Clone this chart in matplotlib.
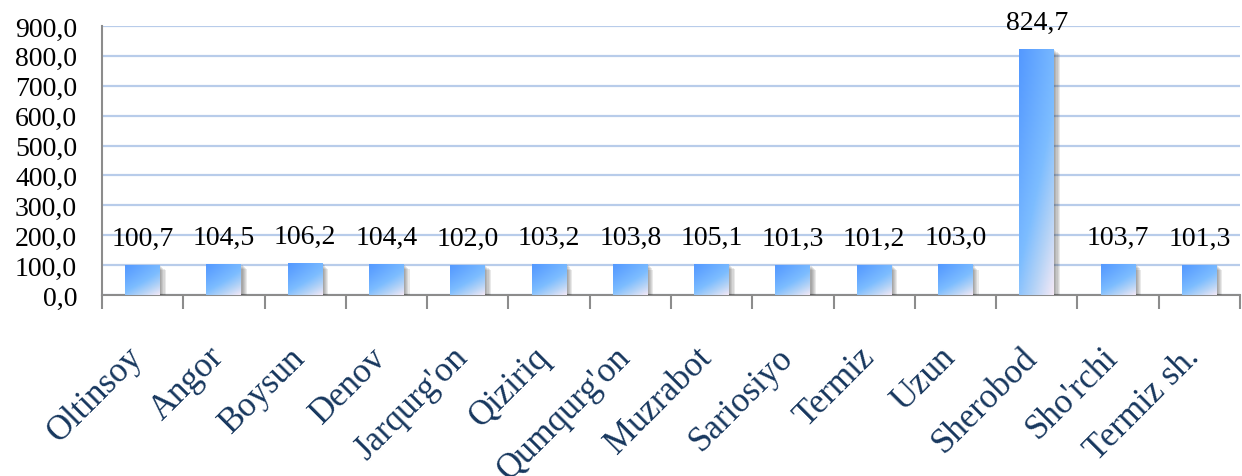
import numpy as np
import matplotlib
matplotlib.use("Agg")
import matplotlib.pyplot as plt
from matplotlib.colors import LinearSegmentedColormap
from matplotlib.ticker import FixedLocator, FuncFormatter
import matplotlib.patheffects as pe
import matplotlib.transforms as mtransforms

categories = ["Oltinsoy", "Angor", "Boysun", "Denov", "Jarqurg'on", "Qiziriq",
              "Qumqurg'on", "Muzrabot", "Sariosiyo", "Termiz", "Uzun", "Sherobod",
              "Sho'rchi", "Termiz sh."]
values = [100.7, 104.5, 106.2, 104.4, 102.0, 103.2, 103.8, 105.1, 101.3, 101.2,
          103.0, 824.7, 103.7, 101.3]
yticks = [0, 100, 200, 300, 400, 500, 600, 700, 800, 900]

plt.rcParams['font.family'] = ['Liberation Serif', 'DejaVu Serif']

fig = plt.figure(figsize=(12.42, 4.77), dpi=100)
ax = fig.add_axes([102/1242, 1-296/477, 1138/1242, 269/477])

x = np.arange(len(categories))
shadow = [pe.SimplePatchShadow(offset=(o, -o), shadow_rgbFace='#303030', alpha=0.10)
          for o in (0.8, 1.6, 2.4, 3.2, 4.0)] + [pe.Normal()]
bars = ax.bar(x, values, width=0.43, color='#7DB6FF', zorder=3, path_effects=shadow)

cmap = LinearSegmentedColormap.from_list(
    'grad', [(0.0, '#5499FF'), (0.5, '#7DBDFF'), (0.75, '#B5D3F6'), (1.0, '#F4E9F6')])
uu, vv = np.meshgrid(np.linspace(0, 1, 60), np.linspace(0, 1, 200))
grad = 0.42 * uu + 0.58 * vv ** 1.3
for b in bars:
    x0, y0, w, h = b.get_x(), b.get_y(), b.get_width(), b.get_height()
    im = ax.imshow(grad, cmap=cmap, extent=[x0, x0 + w, y0, y0 + h], origin='upper',
                   aspect='auto', zorder=4, interpolation='bilinear', vmin=0, vmax=1)
    im.set_clip_path(b)

for xi, v in zip(x, values):
    ax.annotate(f"{v:.1f}".replace('.', ','), (xi, v), xytext=(0, 10),
                textcoords='offset points', ha='center', va='bottom',
                fontsize=20, color='black', zorder=5)

ax.set_xlim(-0.5, len(categories) - 0.5)
ax.set_ylim(0, 900)
ax.set_yticks(yticks)
ax.yaxis.set_major_formatter(FuncFormatter(lambda v, p: f"{v:.1f}".replace('.', ',')))
ax.tick_params(axis='y', length=0, labelsize=20, pad=18, colors='black')
ax.grid(axis='y', color='#B8CCEA', linewidth=1.6, zorder=0)
ax.set_axisbelow(True)

ax.set_xticks(x)
ax.set_xticklabels(categories, rotation=45, ha='right', va='center',
                   rotation_mode='anchor', fontsize=25, color='#17375E')
ax.tick_params(axis='x', which='major', length=0, pad=41)
shift = mtransforms.ScaledTranslation(-5 / 100, 0, fig.dpi_scale_trans)
for lab in ax.get_xticklabels():
    lab.set_transform(lab.get_transform() + shift)
ax.xaxis.set_minor_locator(FixedLocator(np.arange(-0.5, len(categories), 1.0)))
ax.tick_params(axis='x', which='minor', length=10, width=1.5, color='#8C8C8C')

for s in ['top', 'right']:
    ax.spines[s].set_visible(False)
for s in ['left', 'bottom']:
    ax.spines[s].set_color('#8C8C8C')
    ax.spines[s].set_linewidth(1.5)

fig.savefig('out.png', dpi=100)
